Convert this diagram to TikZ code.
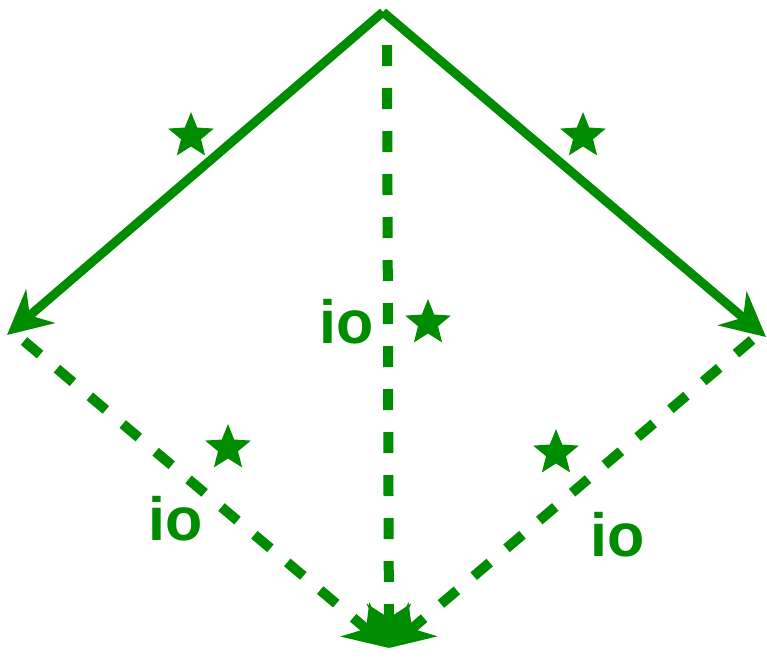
\documentclass[tikz,border=0pt]{standalone}
\usepackage{fontspec}
\setmainfont{Liberation Sans}
\usetikzlibrary{arrows.meta}
\definecolor{gr}{RGB}{0,140,0}
\tikzset{
  solidarrow/.style={draw=gr,line width=9pt,-{Stealth[length=44pt,width=44pt,inset=14pt]}},
  dasharrow/.style={draw=gr,line width=10pt,dash pattern=on 21pt off 22pt,-{Stealth[length=44pt,width=44pt,inset=14pt]}},
  iolabel/.style={text=gr,font=\fontsize{61}{61}\selectfont\bfseries,inner sep=0pt,anchor=base},
  starfill/.style={fill=gr}
}
\newcommand\mystar[1]{\fill[starfill] (#1) +(90:24pt) -- +(126:10.5pt) -- +(162:24pt) -- +(198:10.5pt) -- +(234:24pt) -- +(270:10.5pt) -- +(306:24pt) -- +(342:10.5pt) -- +(18:24pt) -- +(54:10.5pt) -- cycle;}
\begin{document}
\begin{tikzpicture}[x=1pt,y=-1pt]
\useasboundingbox (0,0) rectangle (767,657);
\coordinate (top) at (383,12);
\coordinate (L) at (7,335);
\coordinate (R) at (766,337);
\coordinate (B) at (389,648);
\coordinate (Ls) at (24,341);
\coordinate (Rs) at (752,340);
\coordinate (Ts) at (387,45);
% solid arrows
\draw[solidarrow] (top) -- (L);
\draw[solidarrow] (top) -- (R);
% dashed arrows
\draw[dasharrow] (Ls) -- (B);
\draw[dasharrow] (Rs) -- (B);
\draw[dasharrow] (Ts) -- (B);
% stars
\mystar{191,136}
\mystar{583,136}
\mystar{428,323}
\mystar{228,448}
\mystar{556,453}
% labels
\node[iolabel] (io1) at (347,343) {io};
\node[iolabel] (io2) at (176,540) {io};
\node[iolabel] (io3) at (618,556) {io};
\end{tikzpicture}
\end{document}
